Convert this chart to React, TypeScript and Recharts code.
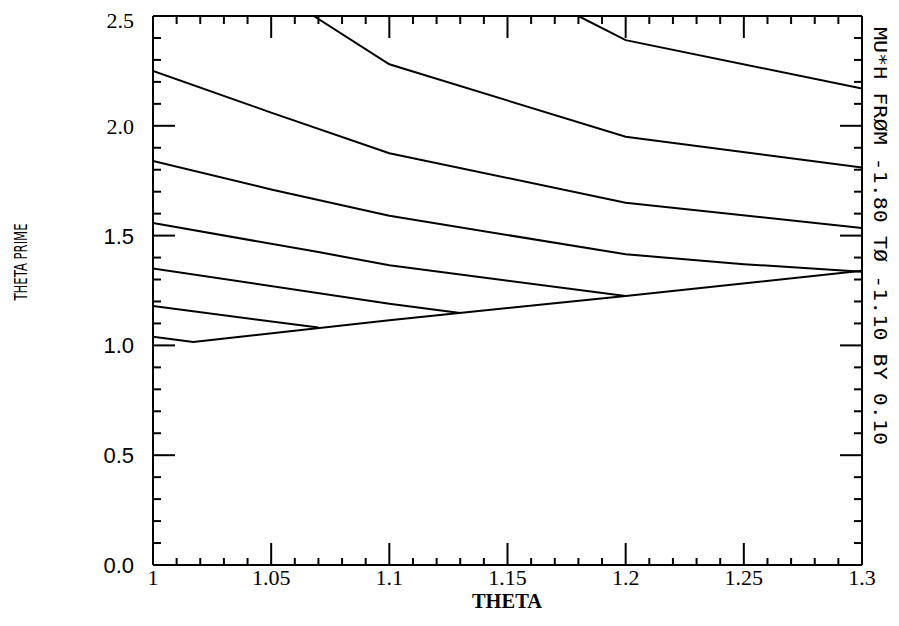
import React from 'react';
import { LineChart, Line, XAxis, YAxis } from 'recharts';

// axis labels
const thetaLabels = [1, 1.05, 1.1, 1.15, 1.2, 1.25, 1.3];
const primeLabels = [0, 0.5, 1, 1.5, 2, 2.5];

// contour curves: theta / theta prime
const c1Theta = [1.18, 1.2, 1.3];
const c1Prime = [2.5, 2.39, 2.17];
const c2Theta = [1.068, 1.1, 1.2, 1.3];
const c2Prime = [2.5, 2.28, 1.95, 1.81];
const c3Theta = [1.0, 1.05, 1.1, 1.2, 1.3];
const c3Prime = [2.25, 2.06, 1.875, 1.65, 1.535];
const c4Theta = [1.0, 1.05, 1.1, 1.2, 1.25, 1.3];
const c4Prime = [1.84, 1.71, 1.59, 1.415, 1.37, 1.335];
const c5Theta = [1.0, 1.07, 1.1, 1.2];
const c5Prime = [1.557, 1.425, 1.365, 1.225];
const c6Theta = [1.0, 1.1, 1.13];
const c6Prime = [1.35, 1.19, 1.148];
const c7Theta = [1.0, 1.07];
const c7Prime = [1.18, 1.081];
const c8Theta = [1.0, 1.017, 1.1, 1.2, 1.3];
const c8Prime = [1.04, 1.015, 1.115, 1.225, 1.34];

const curves = [
  [c1Theta, c1Prime],
  [c2Theta, c2Prime],
  [c3Theta, c3Prime],
  [c4Theta, c4Prime],
  [c5Theta, c5Prime],
  [c6Theta, c6Prime],
  [c7Theta, c7Prime],
  [c8Theta, c8Prime],
].map(([t, p]) => t.map((x, i) => ({ t: x, v: p[i] })));

// minor ticks every 0.01 on theta, 0.1 on theta prime
const xTicks = Array.from({ length: 31 }, (_, i) => Math.round(100 + i) / 100);
const yTicks = Array.from({ length: 26 }, (_, i) => i / 10);

const isMajorX = (v: number) => Math.round(v * 100) % 5 === 0;
const isMajorY = (v: number) => Math.round(v * 10) % 5 === 0;

const BottomTick = (props: any) => {
  const { x, y, payload } = props;
  const major = isMajorX(payload.value);
  const label = thetaLabels.find((l) => Math.abs(l - payload.value) < 1e-6);
  return (
    <g>
      <line x1={x} y1={y} x2={x} y2={y - (major ? 22 : 7)} stroke="#000" strokeWidth={2} />
      {label !== undefined && (
        <text x={x} y={y + 20} textAnchor="middle" fontFamily="'Liberation Serif', serif" fontSize={22} fill="#000">
          {String(label)}
        </text>
      )}
    </g>
  );
};

const TopTick = (props: any) => {
  const { x, y, payload } = props;
  const major = isMajorX(payload.value);
  return <line x1={x} y1={y} x2={x} y2={y + (major ? 22 : 8)} stroke="#000" strokeWidth={2} />;
};

const LeftTick = (props: any) => {
  const { x, y, payload } = props;
  const major = isMajorY(payload.value);
  const label = primeLabels.find((l) => Math.abs(l - payload.value) < 1e-6);
  const serif = payload.value >= 2;
  return (
    <g>
      <line x1={x} y1={y} x2={x + (major ? 22 : 8)} y2={y} stroke="#000" strokeWidth={2} />
      {label !== undefined && (
        <text
          x={x - 19}
          y={y + (payload.value === 2.5 ? 12 : 8)}
          textAnchor="end"
          fontFamily={serif ? "'Liberation Serif', serif" : "'Liberation Sans', sans-serif"}
          fontSize={22}
          fill="#000"
        >
          {label.toFixed(1)}
        </text>
      )}
    </g>
  );
};

const RightTick = (props: any) => {
  const { x, y, payload } = props;
  const major = isMajorY(payload.value);
  return <line x1={x} y1={y} x2={x - (major ? 22 : 8)} y2={y} stroke="#000" strokeWidth={2} />;
};

export default function App() {
  const axisLine = { stroke: '#000', strokeWidth: 2 };
  return (
    <div style={{ position: 'absolute', left: 0, top: 0, width: 899, height: 626, background: '#fff' }}>
      <LineChart width={899} height={626} margin={{ top: 15, right: 36, bottom: 60, left: 152 }}>
        <XAxis
          xAxisId="b"
          type="number"
          dataKey="t"
          domain={[1, 1.3]}
          ticks={xTicks}
          interval={0}
          height={1}
          tickSize={0}
          tickMargin={0}
          tickLine={false}
          axisLine={axisLine}
          tick={BottomTick}
          allowDataOverflow
        />
        <XAxis
          xAxisId="t"
          orientation="top"
          type="number"
          dataKey="t"
          domain={[1, 1.3]}
          ticks={xTicks}
          interval={0}
          height={1}
          tickSize={0}
          tickMargin={0}
          tickLine={false}
          axisLine={axisLine}
          tick={TopTick}
          allowDataOverflow
        />
        <YAxis
          yAxisId="l"
          type="number"
          domain={[0, 2.5]}
          ticks={yTicks}
          interval={0}
          width={1}
          tickSize={0}
          tickMargin={0}
          tickLine={false}
          axisLine={axisLine}
          tick={LeftTick}
          allowDataOverflow
        />
        <YAxis
          yAxisId="r"
          orientation="right"
          type="number"
          domain={[0, 2.5]}
          ticks={yTicks}
          interval={0}
          width={1}
          tickSize={0}
          tickMargin={0}
          tickLine={false}
          axisLine={axisLine}
          tick={RightTick}
          allowDataOverflow
        />
        {curves.map((d, i) => (
          <Line
            key={i}
            xAxisId="b"
            yAxisId="l"
            data={d}
            dataKey="v"
            type="linear"
            stroke="#000"
            strokeWidth={2}
            dot={false}
            activeDot={false}
            isAnimationActive={false}
          />
        ))}
      </LineChart>
      <svg width={899} height={626} style={{ position: 'absolute', left: 0, top: 0, pointerEvents: 'none' }}>
        <text
          transform="translate(27 262) rotate(-90)"
          textAnchor="middle"
          fontFamily="'DejaVu Sans', sans-serif"
          fontSize={18}
          textLength={77}
          lengthAdjust="spacingAndGlyphs"
          fill="#000"
        >
          THETA PRIME
        </text>
        <text
          x={507}
          y={608}
          textAnchor="middle"
          fontFamily="'Liberation Serif', serif"
          fontWeight="bold"
          fontSize={21}
          textLength={70}
          lengthAdjust="spacingAndGlyphs"
          fill="#000"
        >
          THETA
        </text>
        <text
          transform="translate(874 236) rotate(90)"
          textAnchor="middle"
          fontFamily="'DejaVu Sans Mono', monospace"
          fontSize={18}
          textLength={418}
          lengthAdjust="spacingAndGlyphs"
          fill="#000"
        >
          MU*H FRØM -1.80 TØ -1.10 BY 0.10
        </text>
      </svg>
    </div>
  );
}
